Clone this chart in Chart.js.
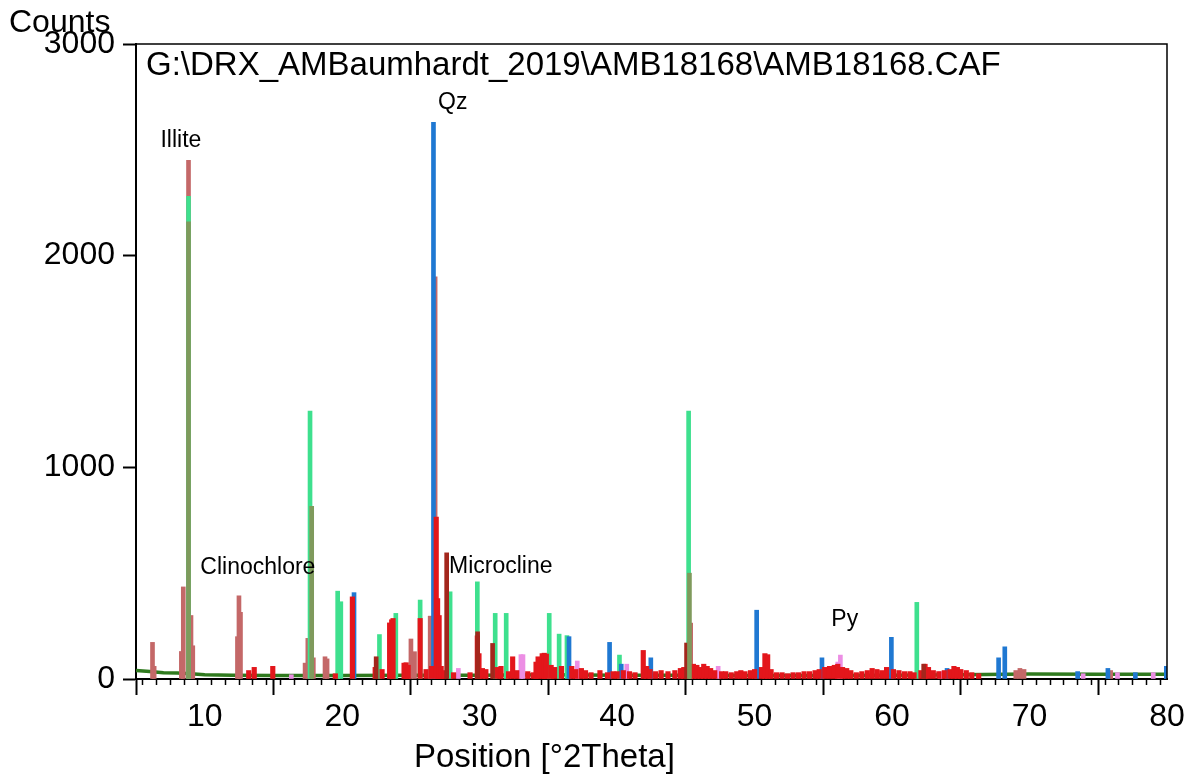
<!DOCTYPE html>
<html lang="en">
<head>
  <meta charset="UTF-8" />
  <title>AMB18168 XRD</title>
  <script src="https://cdn.jsdelivr.net/npm/chart.js"></script>
  <style>
    body { margin: 0; background: #fff; }
    canvas { display: block; }
  </style>
</head>
<body>
  <canvas id="xrd" width="1200" height="778"></canvas>

  <script>
    // peak positions [°2Theta] and heights [counts]
    const rosyPos    = [6.2, 6.32, 8.3, 8.44, 8.82, 9.0, 9.13, 12.38, 12.49, 12.6, 17.3, 17.5, 17.9, 18.75, 18.9, 25.0, 25.26, 26.4, 26.76, 45.35, 69.0, 69.3, 69.6, 75.9];
    const rosyCounts = [173, 60, 130, 435, 2450, 300, 157, 200, 393, 315, 75, 192, 100, 105, 95, 189, 129, 297, 1900, 264, 40, 50, 45, 40];

    const greenPos    = [8.82, 17.66, 19.67, 19.9, 22.71, 23.9, 25.67, 27.85, 29.83, 31.13, 31.93, 35.06, 35.78, 36.35, 40.17, 45.2, 61.8];
    const greenCounts = [2280, 1266, 415, 365, 210, 310, 373, 412, 459, 310, 310, 310, 212, 205, 113, 1266, 362];

    const olivePos    = [8.82, 17.78, 45.26];
    const oliveCounts = [2160, 816, 500];

    const bluePos    = [20.86, 26.64, 36.5, 39.45, 40.3, 42.45, 50.15, 54.9, 59.95, 64.0, 67.75, 68.2, 73.5, 75.7, 77.7, 79.95];
    const blueCounts = [408, 2630, 200, 173, 70, 100, 325, 100, 197, 50, 100, 152, 35, 50, 30, 60];

    const pinkPos    = [16.3, 28.45, 33.0, 33.15, 37.1, 40.7, 47.35, 56.05, 56.24, 63.5, 73.9, 76.4, 79.0];
    const pinkCounts = [20, 50, 115, 115, 85, 70, 60, 80, 113, 35, 25, 30, 30];

    const darkPos    = [22.47, 27.6, 29.85, 30.94, 45.05, 62.3];
    const darkCounts = [105, 596, 223, 168, 170, 70];

    const redPos = [13.2, 13.6, 14.95, 19.5, 20.74, 22.4, 22.9, 23.45, 23.6, 23.7, 24.5, 24.65, 24.8, 25.67, 26.1, 26.5,
      26.84, 26.94, 27.05, 27.2, 27.4, 28.1, 29.3, 29.83, 29.95, 30.2, 30.45, 31.3, 31.55, 32.1, 32.4, 32.7, 33.5, 33.9,
      34.1, 34.25, 34.55, 34.7, 34.85, 35.2, 35.45, 35.95, 36.7, 37.0, 37.4, 37.7, 38.1, 38.75, 39.3, 39.7, 40.0, 40.45,
      40.9, 41.3, 41.9, 42.15, 42.4, 42.8, 43.2, 43.7, 44.2, 44.6, 44.85, 45.55, 45.8, 46.05, 46.3, 46.55, 46.8, 47.1,
      47.6, 47.9, 48.3, 48.7, 49.0, 49.3, 49.7, 50.0, 50.5, 50.75, 50.95, 51.2, 51.6, 52.0, 52.4, 52.8, 53.2, 53.6, 54.0,
      54.4, 54.7, 55.1, 55.45, 55.8, 56.05, 56.4, 56.7, 57.0, 57.4, 57.8, 58.2, 58.55, 58.9, 59.25, 59.6, 60.1, 60.5,
      60.9, 61.3, 61.6, 62.1, 62.4, 62.65, 63.0, 63.4, 63.8, 64.2, 64.5, 64.75, 65.0, 65.4, 65.8, 66.3];
    const redCounts = [40, 55, 60, 25, 388, 55, 45, 265, 280, 286, 75, 77, 65, 286, 45, 60,
      765, 380, 300, 60, 40, 30, 30, 204, 120, 50, 45, 55, 60, 35, 105, 40, 35, 30,
      80, 105, 120, 122, 118, 65, 55, 60, 60, 45, 50, 40, 30, 40, 30, 35, 35, 40,
      35, 30, 135, 60, 45, 35, 40, 35, 40, 50, 55, 70, 65, 55, 70, 60, 50, 40,
      35, 35, 30, 35, 40, 35, 40, 45, 55, 120, 115, 45, 30, 30, 25, 30, 30, 35, 35,
      40, 45, 55, 60, 65, 70, 55, 50, 40, 30, 35, 40, 50, 45, 40, 55, 45, 40,
      35, 35, 30, 40, 70, 55, 40, 35, 40, 45, 60, 55, 45, 40, 30, 25];

    const basePos    = [5, 6, 7, 8, 9, 10, 12, 15, 20, 25, 30, 35, 40, 45, 50, 55, 60, 65, 70, 75, 80];
    const baseCounts = [40, 35, 30, 28, 25, 20, 18, 16, 16, 18, 18, 20, 18, 18, 17, 17, 18, 20, 24, 22, 22];

    const yTicks = [0, 1000, 2000, 3000];
    const xTicks = [10, 20, 30, 40, 50, 60, 70, 80];

    const fileTitle = 'G:\\DRX_AMBaumhardt_2019\\AMB18168\\AMB18168.CAF';
    const phaseNames = ['Illite', 'Qz', 'Clinochlore', 'Microcline', 'Py'];
    const phaseAtX   = [6.78, 26.97, 9.68, 27.77, 55.58];
    const phaseAtY   = [2541, 2721, 524, 529, 279];

    const FONT = '"Liberation Sans", Arial, sans-serif';

    function pts(xs, ys) {
      return xs.map((x, i) => ({ x: x, y: ys[i] }));
    }

    function sticks(xs, ys, color, order, width) {
      return {
        type: 'bar',
        data: pts(xs, ys),
        backgroundColor: color,
        barThickness: width || 4,
        grouped: false,
        order: order
      };
    }

    // plain text: counts label, file name, x title, phase names, and the box
    const textPlugin = {
      id: 'texts',
      afterDraw(chart) {
        const { ctx, chartArea: a, scales } = chart;
        ctx.save();
        ctx.strokeStyle = '#000';
        ctx.lineWidth = 1.5;
        ctx.beginPath();
        ctx.moveTo(a.left, a.top);
        ctx.lineTo(a.right, a.top);
        ctx.lineTo(a.right, a.bottom);
        ctx.stroke();

        ctx.fillStyle = '#000';
        ctx.textBaseline = 'alphabetic';
        ctx.font = '32px ' + FONT;
        ctx.fillText('Counts', 9, 32);
        ctx.font = '33px ' + FONT;
        ctx.fillText(fileTitle, 146, 75);
        ctx.fillText('Position [°2Theta]', 414, 767);

        ctx.font = '23px ' + FONT;
        ctx.textBaseline = 'middle';
        phaseNames.forEach((t, i) => {
          ctx.fillText(t, scales.x.getPixelForValue(phaseAtX[i]), scales.y.getPixelForValue(phaseAtY[i]));
        });
        ctx.restore();
      }
    };

    new Chart(document.getElementById('xrd'), {
      type: 'bar',
      data: {
        datasets: [
          sticks(olivePos, oliveCounts, '#7f9a5c', 0),
          sticks(darkPos, darkCounts, '#a3261c', 1),
          sticks(redPos, redCounts, '#e3161b', 2, 4.5),
          sticks(pinkPos, pinkCounts, '#ec8ee4', 3),
          sticks(bluePos, blueCounts, '#1f78d2', 4),
          sticks(greenPos, greenCounts, '#3ee08e', 5),
          sticks(rosyPos, rosyCounts, '#c46868', 6),
          {
            type: 'line',
            data: pts(basePos, baseCounts),
            borderColor: '#2f7a1e',
            borderWidth: 3.5,
            pointRadius: 0,
            tension: 0,
            order: 7
          }
        ]
      },
      options: {
        responsive: false,
        animation: false,
        layout: { padding: { top: 44, right: 33, left: 0, bottom: 0 } },
        plugins: {
          legend: { display: false },
          tooltip: { enabled: false }
        },
        scales: {
          xMinor: {
            type: 'linear', position: 'bottom', weight: 0,
            min: 5, max: 80, offset: false,
            ticks: { stepSize: 1, display: false },
            grid: { drawOnChartArea: false, tickLength: 6, color: '#000', tickWidth: 1.5 },
            border: { display: false },
            afterFit: s => { s.height = 0; }
          },
          x: {
            type: 'linear', position: 'bottom', weight: 1,
            min: 5, max: 80, offset: false,
            afterBuildTicks: s => { s.ticks = xTicks.map(v => ({ value: v })); },
            ticks: { color: '#000', font: { family: FONT, size: 32 }, padding: 3, maxRotation: 0, autoSkip: false,
                     callback: v => String(v) },
            grid: { drawOnChartArea: false, tickLength: 16, color: '#000', tickWidth: 2 },
            border: { color: '#000', width: 2 },
            afterFit: s => { s.height = 99; }
          },
          y: {
            min: 0, max: 3000,
            afterBuildTicks: s => { s.ticks = yTicks.map(v => ({ value: v })); },
            ticks: { color: '#000', font: { family: FONT, size: 32 }, padding: 8, callback: v => String(v) },
            grid: { drawOnChartArea: false, tickLength: 13, color: '#000', tickWidth: 2 },
            border: { color: '#000', width: 2 },
            afterFit: s => { s.width = 136; }
          }
        }
      },
      plugins: [textPlugin]
    });
  </script>
</body>
</html>
